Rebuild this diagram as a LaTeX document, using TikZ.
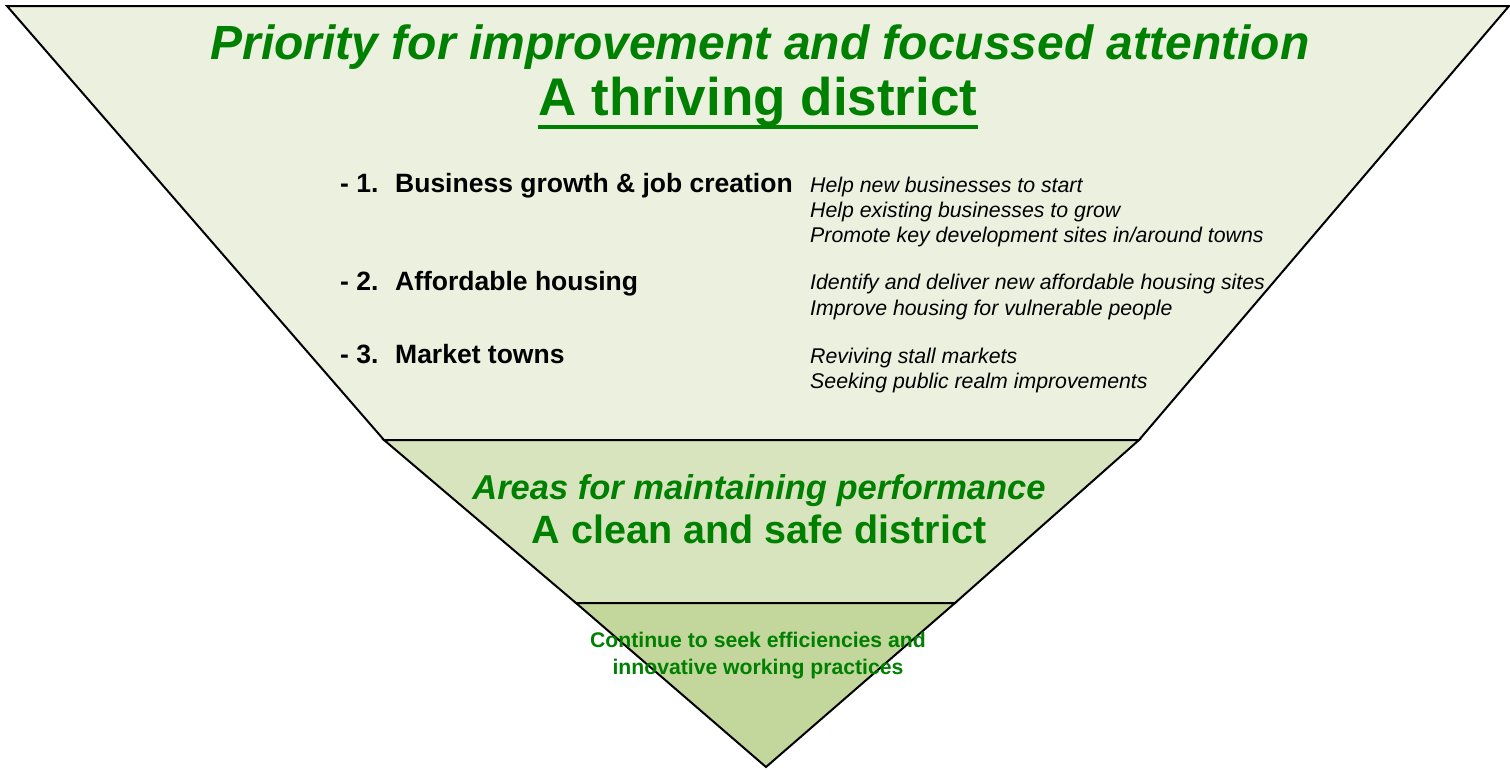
\documentclass[tikz,border=0pt]{standalone}
\usepackage{fontspec}
\setmainfont{Liberation Sans}
\usetikzlibrary{calc,positioning}

\definecolor{leafgreen}{HTML}{008000}
\definecolor{tierone}{HTML}{EBF1DE}
\definecolor{tiertwo}{HTML}{D7E4BD}
\definecolor{tierthree}{HTML}{C3D69B}

\tikzset{
  tier/.style={draw=black, line width=2pt, line join=miter},
  heading/.style={inner sep=0pt, anchor=base, text=leafgreen, font=\bfseries\itshape\fontsize{48}{56}\selectfont},
  motto/.style={inner sep=0pt, anchor=base, text=leafgreen, font=\bfseries\fontsize{#1}{#1}\selectfont},
  goal/.style={inner sep=0pt, anchor=base west, font=\bfseries\fontsize{26.5}{30}\selectfont},
  action/.style={inner sep=0pt, anchor=base west, font=\itshape\fontsize{21.3}{25}\selectfont},
}

\begin{document}
\begin{tikzpicture}[x=1pt, y=-1pt]
  \useasboundingbox (0,0) rectangle (1510,769);
  % corners of the three tiers
  \coordinate (t1) at (7,6);
  \coordinate (t2) at (1509,6);
  \coordinate (m1) at (384,440);
  \coordinate (m2) at (1139,440);
  \coordinate (n1) at (576,603);
  \coordinate (n2) at (955,603);
  \coordinate (apex) at (766,767);

  \filldraw[tier, fill=tierone] (t1) -- (t2) -- (m2) -- (m1) -- cycle;
  \filldraw[tier, fill=tiertwo] (m1) -- (m2) -- (n2) -- (n1) -- cycle;
  \filldraw[tier, fill=tierthree] (n1) -- (n2) -- (apex) -- cycle;

  % top tier
  \node[heading] (prio) at (760,59) {Priority for improvement and focussed attention};
  \node[motto=53] (thrive) at (758,115) {A thriving district};
  \draw[leafgreen, line width=4pt] ($(thrive.base west)+(0,12)$) -- ($(thrive.base east)+(0,12)$);

  \node[goal] (g1) at (340,192) {\makebox[55pt][l]{- 1.}Business growth \& job creation};
  \node[goal] (g2) at (340,290) {\makebox[55pt][l]{- 2.}Affordable housing};
  \node[goal] (g3) at (340,363) {\makebox[55pt][l]{- 3.}Market towns};

  \foreach \txt [count=\i from 0] in {Help new businesses to start,
      Help existing businesses to grow, Promote key development sites in/around towns}
    \node[action] (jobs\i) at (810,{192+25*\i}) {\txt};
  \foreach \txt [count=\i from 0] in {Identify and deliver new affordable housing sites,
      Improve housing for vulnerable people}
    \node[action] (homes\i) at (810,{289+26*\i}) {\txt};
  \foreach \txt [count=\i from 0] in {Reviving stall markets, Seeking public realm improvements}
    \node[action] (towns\i) at (810,{363+25*\i}) {\txt};

  % middle tier
  \node[heading, font=\bfseries\itshape\fontsize{34.5}{40}\selectfont] (areas) at (759,499) {Areas for maintaining performance};
  \node[motto=39.5] (clean) at (759,543) {A clean and safe district};

  % bottom tier
  \node[motto=21.2] (eff1) at (758,647) {Continue to seek efficiencies and};
  \node[motto=21.2] (eff2) at (758,674) {innovative working practices};
\end{tikzpicture}
\end{document}
